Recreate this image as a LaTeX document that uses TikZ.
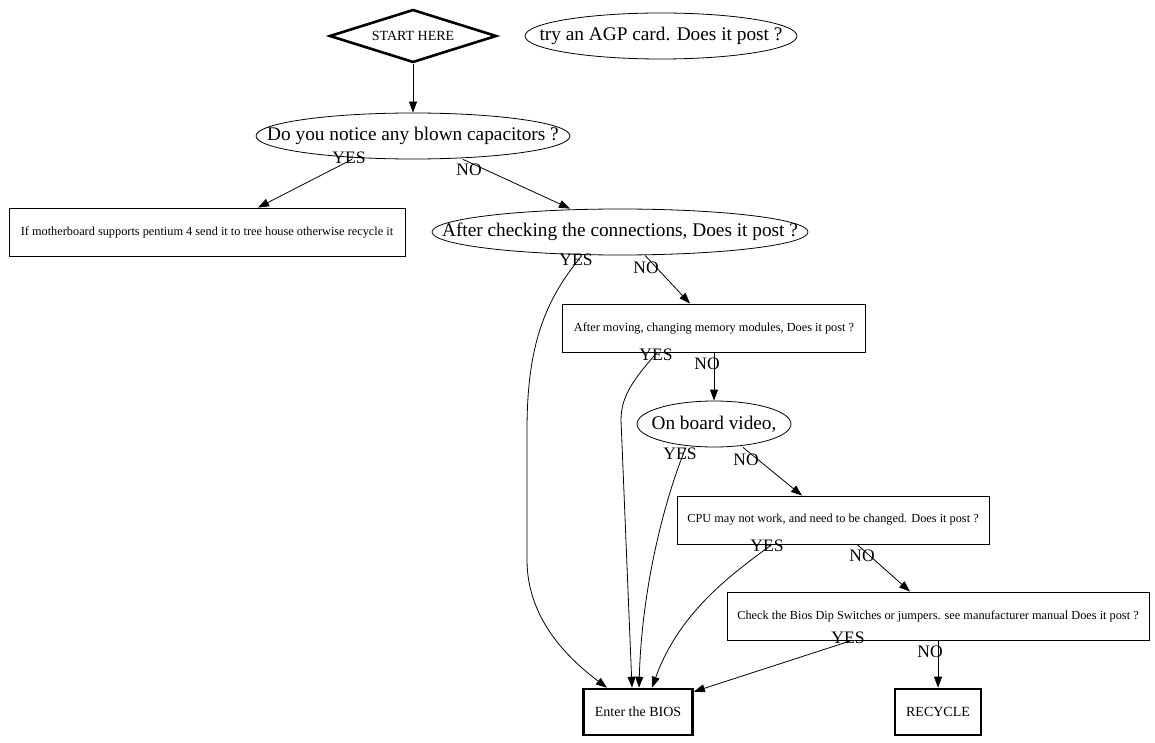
\documentclass[tikz,border=0pt]{standalone}
\usepackage{fontspec}
\setmainfont{Liberation Serif}
\usetikzlibrary{shapes.geometric,arrows.meta}
\newcommand{\ovtxt}[1]{\makebox[0pt]{#1}}

\begin{document}
\begin{tikzpicture}[x=1pt,y=-1pt,line width=0.8pt,
  big/.style={font=\fontsize{19.3}{19.3}\selectfont},
  small/.style={font=\fontsize{12.3}{12.3}\selectfont},
  oval/.style={ellipse,draw,inner sep=0pt,minimum height=46pt,big},
  box/.style={rectangle,draw,inner sep=0pt,minimum height=48pt,small},
  endbox/.style={rectangle,draw,line width=2.6pt,inner sep=0pt,minimum height=46pt,font=\fontsize{14}{14}\selectfont},
  lbl/.style={inner sep=0pt,font=\fontsize{17.5}{17.5}\selectfont},
  arr/.style={-{Triangle[length=11pt,width=8pt]}}]
  \useasboundingbox (0,0) rectangle (1155,743);
  \node [diamond,draw,line width=2.6pt,inner sep=0pt,minimum width=167pt,minimum height=53pt,font=\fontsize{14}{14}\selectfont] (start) at (413,36) {\ovtxt{START HERE}};
  \node [oval,minimum width=272pt] (agp) at (661,36) {\ovtxt{try an AGP card. Does it post ?}};
  \node [oval,minimum width=314pt] (cap) at (413,136) {\ovtxt{Do you notice any blown capacitors ?}};
  \node [box,minimum width=396pt] (p4) at (207,232) {If motherboard supports pentium 4 send it to tree house otherwise recycle it};
  \node [oval,minimum width=376pt] (conn) at (620,232) {\ovtxt{After checking the connections, Does it post ?}};
  \node [box,minimum width=303pt] (mem) at (714,328) {After moving, changing memory modules, Does it post ?};
  \node [oval,minimum width=154pt] (vid) at (714,424) {\ovtxt{On board video,}};
  \node [box,minimum width=312pt] (cpu) at (833,520) {CPU may not work, and need to be changed. Does it post ?};
  \node [box,minimum width=422pt] (dip) at (938,616) {Check the Bios Dip Switches or jumpers. see manufacturer manual Does it post ?};
  \node [endbox,minimum width=109pt] (bios) at (638,712) {Enter the BIOS};
  \node [endbox,minimum width=86pt] (recycle) at (938,712) {RECYCLE};

  \draw [arr] (start.south) -- (cap.north);
  \draw [arr] ([xshift=-61pt]cap.south) -- ([xshift=51pt]p4.north);
  \draw [arr] ([xshift=50pt]cap.south) -- ([xshift=-50pt]conn.north);
  \draw [arr] ([xshift=-38pt]conn.south) .. controls (545,300) and (527,345) .. (527,430)
    -- (527,560) .. controls (527,620) and (570,660) .. ([xshift=-31pt]bios.north);
  \draw [arr] ([xshift=25pt]conn.south) -- ([xshift=-24pt]mem.north);
  \draw [arr] ([xshift=-57pt]mem.south) .. controls (635,378) and (621,395) .. (621,420)
    -- ([xshift=-6pt]bios.north);
  \draw [arr] (mem.south) -- (vid.north);
  \draw [arr] ([xshift=-28pt]vid.south) .. controls (668,490) and (642,580) .. ([xshift=1pt]bios.north);
  \draw [arr] ([xshift=29pt]vid.south) -- ([xshift=-31pt]cpu.north);
  \draw [arr] ([xshift=-61pt]cpu.south) .. controls (735,572) and (680,610) .. ([xshift=14pt]bios.north);
  \draw [arr] ([xshift=24pt]cpu.south) -- ([xshift=-28pt]dip.north);
  \draw [arr] ([xshift=-86pt]dip.south) -- ([yshift=-4pt]bios.north east);
  \draw [arr] (dip.south) -- (recycle.north);

  \node [lbl] (capy) at (349,158) {YES};
  \node [lbl] (capn) at (469,170) {NO};
  \node [lbl] (conny) at (576,260) {YES};
  \node [lbl] (connn) at (646,268) {NO};
  \node [lbl] (memy) at (656,355) {YES};
  \node [lbl] (memn) at (707,364) {NO};
  \node [lbl] (vidy) at (680,454) {YES};
  \node [lbl] (vidn) at (746,460) {NO};
  \node [lbl] (cpuy) at (767,546) {YES};
  \node [lbl] (cpun) at (862,556) {NO};
  \node [lbl] (dipy) at (848,638) {YES};
  \node [lbl] (dipn) at (930,652) {NO};
\end{tikzpicture}
\end{document}
